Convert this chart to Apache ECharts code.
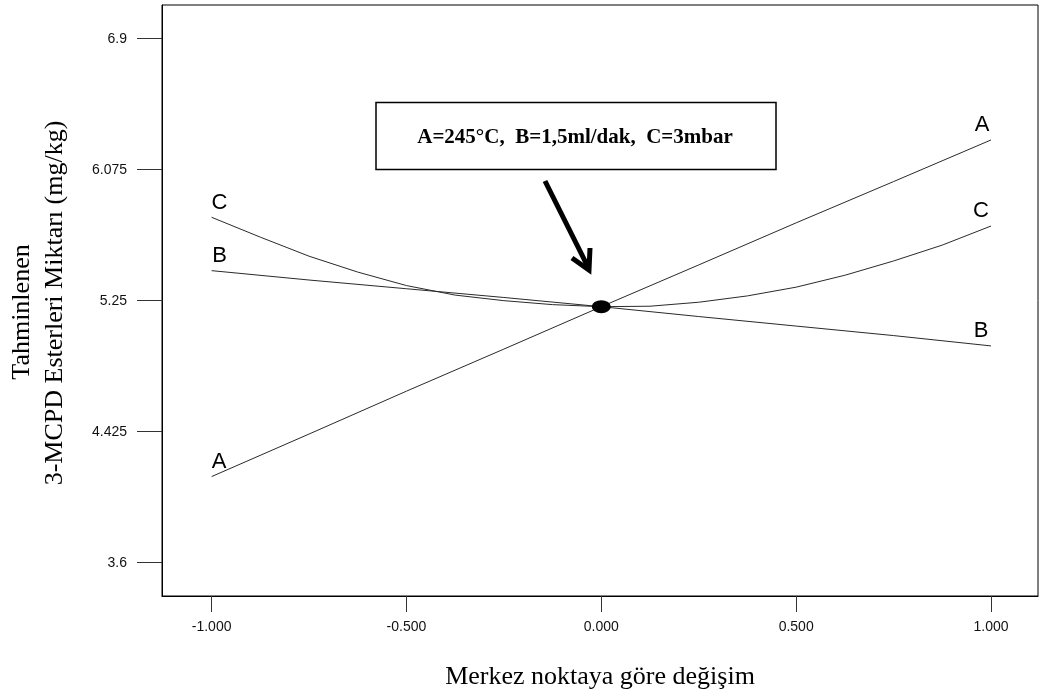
<!DOCTYPE html>
<html>
<head>
<meta charset="utf-8">
<script src="https://cdn.jsdelivr.net/npm/echarts@6/dist/echarts.min.js"></script>
<style>
  html, body { margin: 0; padding: 0; background: #fff; }
  #chart { width: 1044px; height: 697px; }
</style>
</head>
<body>
<div id="chart"></div>
<script>
// ---- Data ----
const xValues = [-1, -0.75, -0.5, -0.25, 0, 0.25, 0.5, 0.75, 1];
const seriesA = [4.142, 4.41, 4.68, 4.945, 5.212, 5.475, 5.74, 6.0, 6.262];
const seriesB = [5.439, 5.38, 5.325, 5.27, 5.212, 5.15, 5.09, 5.03, 4.965];
const xValuesC = [-1, -0.875, -0.75, -0.625, -0.5, -0.375, -0.25, -0.125, 0, 0.125, 0.25, 0.375, 0.5, 0.625, 0.75, 0.875, 1];
const seriesC = [5.775, 5.65, 5.53, 5.43, 5.345, 5.285, 5.25, 5.225, 5.212, 5.215, 5.24, 5.28, 5.335, 5.41, 5.50, 5.60, 5.72];
const centerPoint = [0, 5.212];

const xTicks = [-1, -0.5, 0, 0.5, 1];
const xTickLabels = ['-1.000', '-0.500', '0.000', '0.500', '1.000'];
const yTicks = [3.6, 4.425, 5.25, 6.075, 6.9];
const yTickLabels = ['3.6', '4.425', '5.25', '6.075', '6.9'];

const xTitle = 'Merkez noktaya göre değişim';
const yTitle1 = 'Tahminlenen';
const yTitle2 = '3-MCPD Esterleri Miktarı (mg/kg)';
const annotation = 'A=245°C,  B=1,5ml/dak,  C=3mbar';

function pairs(xs, ys) { return xs.map((x, i) => [x, ys[i]]); }
function fmt(ticks, labels) {
  return v => {
    for (let i = 0; i < ticks.length; i++) if (Math.abs(ticks[i] - v) < 1e-6) return labels[i];
    return '';
  };
}

const chart = echarts.init(document.getElementById('chart'));
const lineStyle = { color: '#2a2a2a', width: 1 };
const labelFont = { fontFamily: 'Liberation Sans', fontSize: 22, fill: '#000' };

chart.setOption({
  animation: false,
  backgroundColor: '#fff',
  grid: { left: 162, top: 5, width: 876, height: 591, show: true, borderColor: '#000', borderWidth: 1, backgroundColor: 'transparent' },
  xAxis: {
    type: 'value', min: -1.1273, max: 1.1206,
    splitLine: { show: false },
    axisLine: { show: true, onZero: false, lineStyle: { color: '#000', width: 1 } },
    axisTick: { show: true, inside: false, customValues: xTicks, length: 16, lineStyle: { color: '#333' } },
    axisLabel: { customValues: xTicks, formatter: fmt(xTicks, xTickLabels), margin: 24, color: '#111', fontFamily: 'Liberation Sans', fontSize: 14 },
    name: xTitle, nameLocation: 'middle', nameGap: 68,
    nameTextStyle: { fontFamily: 'Liberation Serif', fontSize: 26, color: '#000' }
  },
  yAxis: {
    type: 'value', min: 3.390, max: 7.112,
    splitLine: { show: false },
    axisLine: { show: true, onZero: false, lineStyle: { color: '#000', width: 1 } },
    axisTick: { show: true, inside: false, customValues: yTicks, length: 25, lineStyle: { color: '#333' } },
    axisLabel: { customValues: yTicks, formatter: fmt(yTicks, yTickLabels), margin: 35, color: '#111', fontFamily: 'Liberation Sans', fontSize: 14 }
  },
  series: [
    { name: 'A', type: 'line', data: pairs(xValues, seriesA), showSymbol: false, smooth: false, lineStyle: lineStyle },
    { name: 'B', type: 'line', data: pairs(xValues, seriesB), showSymbol: false, smooth: false, lineStyle: lineStyle },
    { name: 'C', type: 'line', data: pairs(xValuesC, seriesC), showSymbol: false, smooth: false, lineStyle: lineStyle },
    { name: 'center', type: 'scatter', data: [centerPoint], symbol: 'circle', symbolSize: [19, 13], itemStyle: { color: '#000', opacity: 1 }, z: 5 }
  ],
  graphic: [
    { type: 'text', x: 22, y: 312, rotation: Math.PI / 2, style: { text: yTitle1, fontFamily: 'Liberation Serif', fontSize: 26, fill: '#000', textAlign: 'center', textVerticalAlign: 'middle' } },
    { type: 'text', x: 55, y: 303, rotation: Math.PI / 2, style: { text: yTitle2, fontFamily: 'Liberation Serif', fontSize: 26, fill: '#000', textAlign: 'center', textVerticalAlign: 'middle' } },
    { type: 'rect', shape: { x: 376, y: 102.5, width: 400, height: 67 }, style: { fill: '#fff', stroke: '#000', lineWidth: 1.5 }, z: 10 },
    { type: 'text', x: 575, y: 138, z: 11, style: { text: annotation, fontFamily: 'Liberation Serif', fontWeight: 'bold', fontSize: 21, fill: '#000', textAlign: 'center', textVerticalAlign: 'middle' } },
    { type: 'line', shape: { x1: 545, y1: 181, x2: 588, y2: 267 }, style: { stroke: '#000', lineWidth: 5 }, z: 10 },
    { type: 'polyline', shape: { points: [[572, 258], [589, 270], [590, 248]] }, style: { stroke: '#000', lineWidth: 5, fill: null, lineJoin: 'miter' }, z: 10 },
    { type: 'text', x: 219.5, y: 203, style: Object.assign({ text: 'C', textAlign: 'center', textVerticalAlign: 'middle' }, labelFont) },
    { type: 'text', x: 219.5, y: 256, style: Object.assign({ text: 'B', textAlign: 'center', textVerticalAlign: 'middle' }, labelFont) },
    { type: 'text', x: 219, y: 462, style: Object.assign({ text: 'A', textAlign: 'center', textVerticalAlign: 'middle' }, labelFont) },
    { type: 'text', x: 982, y: 125, style: Object.assign({ text: 'A', textAlign: 'center', textVerticalAlign: 'middle' }, labelFont) },
    { type: 'text', x: 981, y: 211, style: Object.assign({ text: 'C', textAlign: 'center', textVerticalAlign: 'middle' }, labelFont) },
    { type: 'text', x: 981, y: 331, style: Object.assign({ text: 'B', textAlign: 'center', textVerticalAlign: 'middle' }, labelFont) }
  ]
});
</script>
</body>
</html>
